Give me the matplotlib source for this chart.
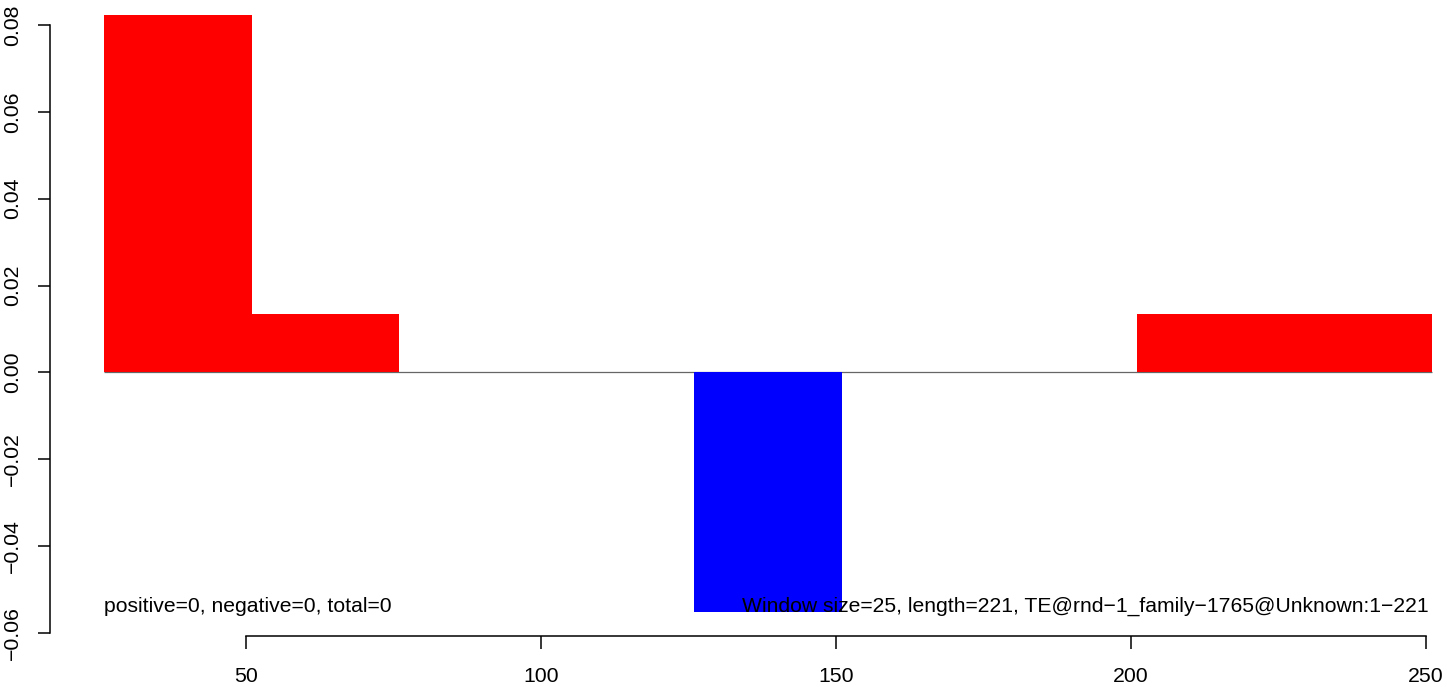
import matplotlib
matplotlib.use("Agg")
import matplotlib.pyplot as plt

plt.rcParams['font.family'] = ['Liberation Sans', 'DejaVu Sans']

# Data
window = 25
bin_starts = [26, 51, 76, 101, 126, 151, 176, 201, 226]
values = [0.0823, 0.0135, 0.0, 0.0, -0.0551, 0.0, 0.0, 0.0135, 0.0135]
x_ticks = [50, 100, 150, 200, 250]
y_ticks = [-0.06, -0.04, -0.02, 0.00, 0.02, 0.04, 0.06, 0.08]
y_ticklabels = ["\u22120.06", "\u22120.04", "\u22120.02", "0.00", "0.02", "0.04", "0.06", "0.08"]
left_text = "positive=0, negative=0, total=0"
right_text = "Window size=25, length=221, TE@rnd\u22121_family\u22121765@Unknown:1\u2212221"

W, H = 1447, 687
fig = plt.figure(figsize=(W / 100, H / 100), dpi=100)
ax = fig.add_axes([0, 0, 1, 1])

# pixel -> data mapping derived from the reference layout
x_per_px = 200 / 1180.3
x0_px = 245.7
y_per_px = 0.14 / 608.0
y0_px = 372.4
ax.set_xlim(50 - x0_px * x_per_px, 50 + (W - x0_px) * x_per_px)
ax.set_ylim(-(H - y0_px) * y_per_px, y0_px * y_per_px)

colors = ['#FF0000' if v > 0 else '#0000FF' for v in values]
ax.hlines(0, bin_starts[0], bin_starts[-1] + window, color='#666666', lw=0.9, zorder=1)
ax.bar(bin_starts, values, width=window, align='edge', color=colors, linewidth=0, zorder=2)

# R-style axes
for s in ['top', 'right']:
    ax.spines[s].set_visible(False)
ax.spines['left'].set_position(('data', 50 - (x0_px - 50) * x_per_px))
ax.spines['left'].set_bounds(y_ticks[0], y_ticks[-1])
ax.spines['bottom'].set_position(('data', -(636 - y0_px) * y_per_px))
ax.spines['bottom'].set_bounds(x_ticks[0], x_ticks[-1])
for s in ['left', 'bottom']:
    ax.spines[s].set_linewidth(1.1)

ax.set_xticks(x_ticks)
ax.set_xticklabels([str(t) for t in x_ticks])
ax.set_yticks(y_ticks)
ax.set_yticklabels(y_ticklabels, rotation=90, va='center')
ax.tick_params(axis='both', direction='out', length=9, width=1.1, labelsize=15.3)
ax.tick_params(axis='x', pad=13)
ax.tick_params(axis='y', pad=11)

text_y = -(612 - y0_px) * y_per_px
ax.text(bin_starts[0], text_y, left_text, ha='left', va='baseline', fontsize=15.2)
ax.text(bin_starts[-1] + window - 0.6, text_y, right_text, ha='right', va='baseline', fontsize=15.2)

fig.savefig("out.png", dpi=100)
